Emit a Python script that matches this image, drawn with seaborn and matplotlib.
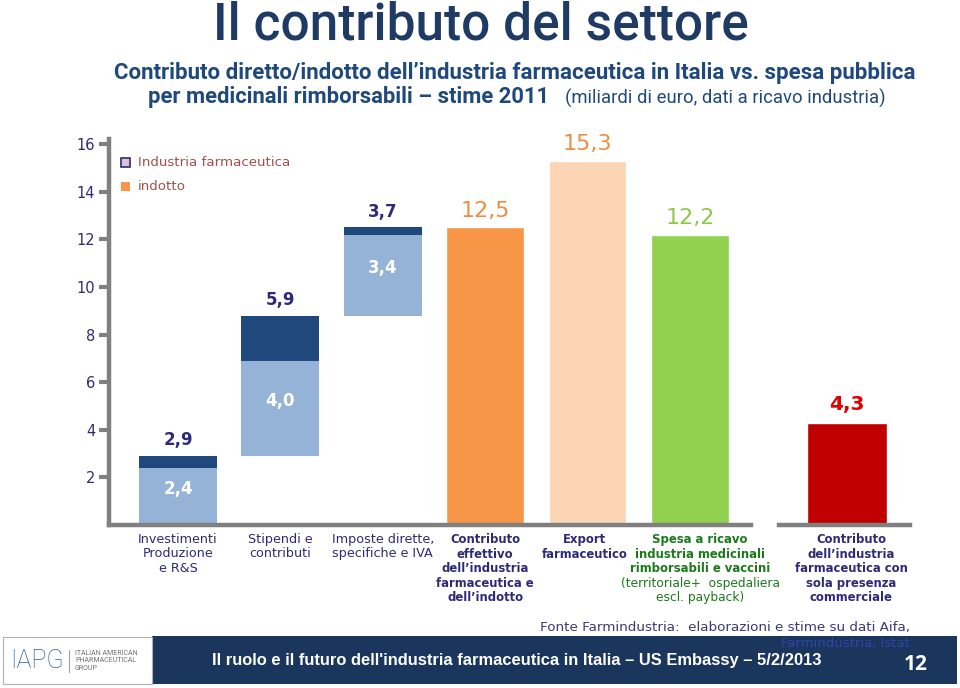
import matplotlib
matplotlib.use("Agg")
import matplotlib.pyplot as plt
from matplotlib.patches import Rectangle
from matplotlib.lines import Line2D
import pandas as pd
import seaborn as sns

# --- data (miliardi di euro) ---
step_names = ["Investimenti\nProduzione\ne R&S",
              "Stipendi e\ncontributi",
              "Imposte dirette,\nspecifiche e IVA"]
step_indotto = [2.4, 4.0, 3.4]       # light segment
step_industria = [0.5, 1.9, 0.3]     # dark segment on top

summary_names = ["Contributo\neffettivo\ndell’industria\nfarmaceutica e\ndell’indotto",
                 "Export\nfarmaceutico",
                 "Spesa a ricavo\nindustria medicinali\nrimborsabili e vaccini"]
summary_values = [12.5, 15.3, 12.2]

commercial_name = "Contributo\ndell’industria\nfarmaceutica con\nsola presenza\ncommerciale"
commercial_value = 4.3

spesa_note = "(territoriale+  ospedaliera\nescl. payback)"
y_ticks = [2, 4, 6, 8, 10, 12, 14, 16]

# colours
LIGHT_BLUE = "#95b3d7"
DARK_BLUE = "#1f497d"
NAVY_TXT = "#2e2a78"
summary_colors = ["#f79646", "#fcd5b5", "#92d050"]
summary_txt_colors = ["#f08c42", "#f08c42", "#8cc84b"]
RED = "#c00000"
GRAY = "#808080"
GREEN_TXT = "#1a7a1a"


def fmt(v):
    return f"{v:.1f}".replace(".", ",")


def fx(px):
    return px / 960


def fy(py):
    return 1 - py / 688


sns.set_style("white")
plt.rcParams["font.family"] = ["DejaVu Sans"]

fig = plt.figure(figsize=(9.6, 6.88), dpi=100)

ax_bottom = fy(525)
ax_height = (525 - 139.4) / 688
ax = fig.add_axes([fx(109), ax_bottom, fx(751 - 109), ax_height])
ax2 = fig.add_axes([fx(779), ax_bottom, fx(910 - 779), ax_height])

all_names = step_names + summary_names

# summary bars through seaborn (positions 3..5 of the category order)
summary_df = pd.DataFrame({"voce": summary_names, "valore": summary_values})
sns.barplot(data=summary_df, x="voce", y="valore", hue="voce", order=all_names,
            palette=summary_colors, width=0.76, legend=False, errorbar=None,
            saturation=1, ax=ax)

# waterfall steps (floating segments)
bottoms = []
start = 0.0
for lo, hi in zip(step_indotto, step_industria):
    bottoms.append(start)
    start += lo + hi
for i, (b, lo, hi) in enumerate(zip(bottoms, step_indotto, step_industria)):
    ax.bar(i, lo, bottom=b, width=0.76, color=LIGHT_BLUE, linewidth=0)
    ax.bar(i, hi, bottom=b + lo, width=0.76, color=DARK_BLUE, linewidth=0)
    ax.annotate(fmt(lo + hi), xy=(i, b + lo + hi), xytext=(0, 5), textcoords="offset points",
                ha="center", va="bottom", fontsize=12, fontweight="bold", color=NAVY_TXT)
    ax.text(i, b + lo / 2 + 0.3, fmt(lo), ha="center", va="center",
            fontsize=12, fontweight="bold", color="white")

for j, (v, c) in enumerate(zip(summary_values, summary_txt_colors)):
    ax.annotate(fmt(v), xy=(j + 3, v), xytext=(0, 5), textcoords="offset points",
                ha="center", va="bottom", fontsize=16, color=c)

# commercial presence bar on its own baseline
comm_df = pd.DataFrame({"voce": [commercial_name], "valore": [commercial_value]})
sns.barplot(data=comm_df, x="voce", y="valore", color=RED, width=0.78,
            errorbar=None, saturation=1, ax=ax2)
ax2.annotate(fmt(commercial_value), xy=(0, commercial_value), xytext=(0, 6),
             textcoords="offset points", ha="center", va="bottom",
             fontsize=14.5, fontweight="bold", color="#e00000")

# axes styling
for a in (ax, ax2):
    a.set_ylim(0, 16.2)
    a.set_xlabel("")
    a.set_ylabel("")
    a.tick_params(axis="x", bottom=False, labelbottom=False)
    for s in ("top", "right"):
        a.spines[s].set_visible(False)
    a.spines["bottom"].set_color(GRAY)
    a.spines["bottom"].set_linewidth(3.2)

ax.set_xlim(-0.674, 5.596)
ax2.set_xlim(-0.664, 0.615)
ax.set_yticks(y_ticks)
ax.tick_params(axis="y", left=True, length=7, width=3, color=GRAY,
               labelsize=10.5, labelcolor=NAVY_TXT, pad=3)
ax.spines["left"].set_color(GRAY)
ax.spines["left"].set_linewidth(3.2)
ax2.spines["left"].set_visible(False)
ax2.set_yticks([])

# category labels
label_style = [("normal", NAVY_TXT)] * 3 + [("bold", NAVY_TXT), ("bold", NAVY_TXT), ("bold", GREEN_TXT)]
label_shift = [0, 0, 0, 0, -0.03, 0.1]
for i, (name, (w, c)) in enumerate(zip(all_names, label_style)):
    ax.annotate(name, xy=(i + label_shift[i], 0), xycoords=("data", "axes fraction"),
                xytext=(0, -6), textcoords="offset points", ha="center", va="top",
                fontsize=9.2 if w == "normal" else 8.4, fontweight=w, color=c,
                linespacing=1.11 if w == "normal" else 1.15)
ax.annotate(spesa_note, xy=(5.1, 0), xycoords=("data", "axes fraction"),
            xytext=(0, -37.5), textcoords="offset points", ha="center", va="top",
            fontsize=8.8, color=GREEN_TXT, linespacing=1.12)
ax2.annotate(commercial_name, xy=(0.04, 0), xycoords=("data", "axes fraction"),
             xytext=(0, -6), textcoords="offset points", ha="center", va="top",
             fontsize=8.4, fontweight="bold", color=NAVY_TXT, linespacing=1.15)

# legend (top-left, inside plot)
fig.add_artist(Rectangle((fx(121), fy(167)), fx(9), 9 / 688, facecolor="#d9c3d9",
                         edgecolor=NAVY_TXT, linewidth=1.2, transform=fig.transFigure))
fig.add_artist(Rectangle((fx(121), fy(191)), fx(9), 9 / 688, facecolor="#f79646",
                         edgecolor="none", transform=fig.transFigure))
fig.text(fx(138), fy(163), "Industria farmaceutica", fontsize=9.6, color="#a0504e", va="center")
fig.text(fx(138), fy(187), "indotto", fontsize=9.6, color="#a0504e", va="center")

# titles
fig.text(fx(481), fy(26), "Il contributo del settore", family="Roboto", fontweight="medium",
         fontsize=37, color="#1f3a63", ha="center", va="center")
fig.text(fx(515), fy(73), "Contributo diretto/indotto dell’industria farmaceutica in Italia vs. spesa pubblica",
         family="Roboto", fontweight="bold", fontsize=16, color="#1f497d", ha="center", va="center")
fig.text(fx(148), fy(97), "per medicinali rimborsabili – stime 2011", family="Roboto",
         fontweight="bold", fontsize=15.8, color="#1f497d", ha="left", va="center")
fig.text(fx(565), fy(98), "(miliardi di euro, dati a ricavo industria)", family="Roboto",
         fontsize=13.3, color="#1f497d", ha="left", va="center")

# source
fig.text(fx(910), fy(627), "Fonte Farmindustria:  elaborazioni e stime su dati Aifa,",
         fontsize=9.7, color="#3a3a78", ha="right", va="center")

# footer band
fig.add_artist(Rectangle((fx(152), fy(684)), fx(805), 48 / 688, facecolor="#1b365d",
                         edgecolor="none", transform=fig.transFigure))
fig.add_artist(Rectangle((fx(3), fy(684)), fx(149), 47 / 688, facecolor="white",
                         edgecolor="#b0b0b0", linewidth=0.8, transform=fig.transFigure))
fig.text(fx(910), fy(643), "Farmindustria, Istat", fontsize=9.5, color="#2e44a8",
         ha="right", va="center")
fig.text(fx(10), fy(661), "IAPG", family="Roboto", fontweight="light", fontsize=18,
         color="#2d5f9e", va="center")
fig.add_artist(Line2D([fx(69), fx(69)], [fy(650), fy(672)], color="#a0a0a0",
                      linewidth=0.8, transform=fig.transFigure))
fig.text(fx(75), fy(661), "ITALIAN AMERICAN\nPHARMACEUTICAL\nGROUP", family="Roboto",
         fontsize=5, color="#707070", va="center", linespacing=1.1)
fig.text(fx(212), fy(660), "Il ruolo e il futuro dell'industria farmaceutica in Italia – US Embassy – 5/2/2013",
         family="Liberation Sans", fontweight="bold", fontsize=11.9, color="white",
         ha="left", va="center")
fig.text(fx(916), fy(664), "12", family="Open Sans", fontweight="bold", fontsize=15,
         color="white", ha="center", va="center")

fig.savefig("out.png", dpi=100)
